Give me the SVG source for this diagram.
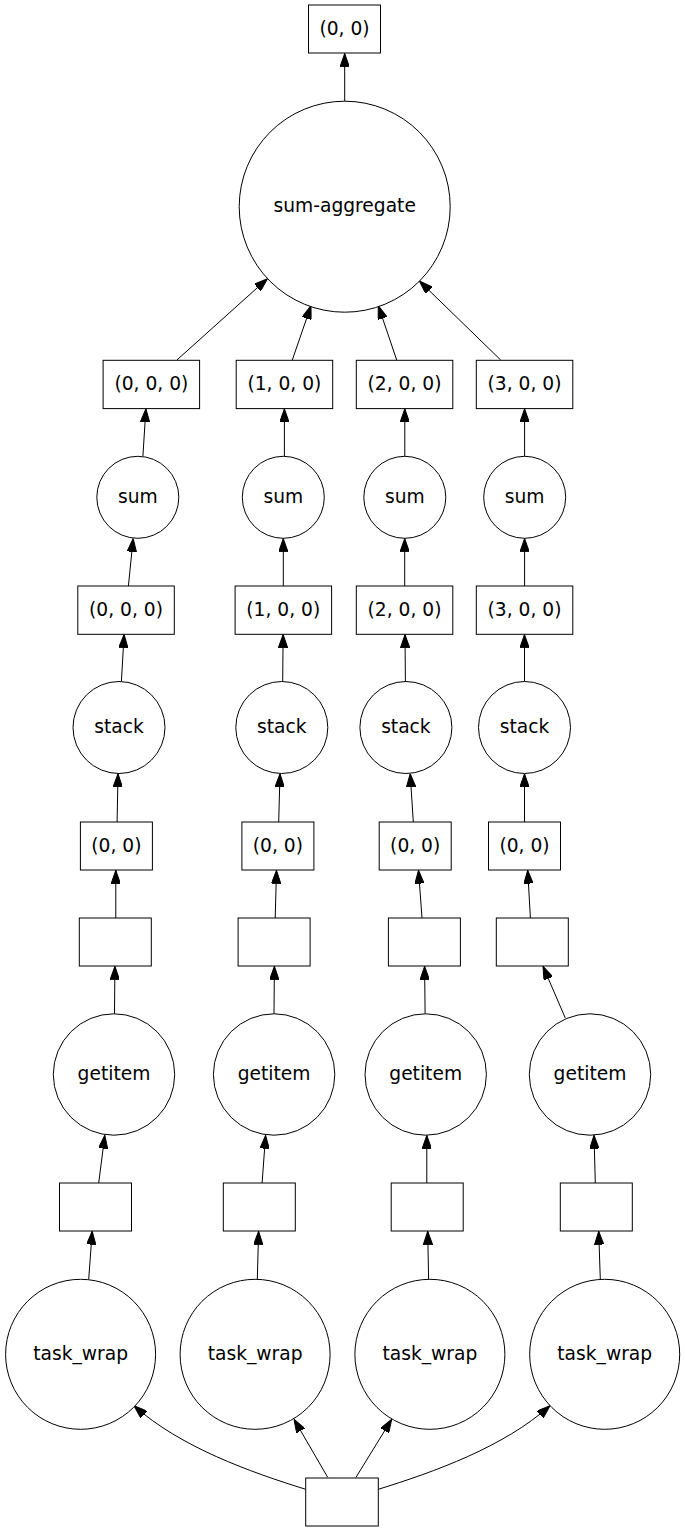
<svg xmlns="http://www.w3.org/2000/svg" width="685" height="1532" viewBox="0 0 685 1532">
<style>
.n rect, .n circle { fill: #ffffff; stroke: #000000; stroke-width: 1; }
.n text { font-family: "DejaVu Sans", "Liberation Sans", sans-serif; font-size: 18.67px; text-anchor: middle; fill: #000000; }
#edges path { fill: none; stroke: #000000; stroke-width: 1; marker-end: url(#arr); }
</style>
<defs>
<marker id="arr" viewBox="0 0 10 7" refX="10" refY="3.5" markerWidth="13.33" markerHeight="9.33" markerUnits="userSpaceOnUse" orient="auto">
<path d="M0,0 L10,3.5 L0,7 Z" fill="#000000" stroke="#000000" stroke-width="0.75"/>
</marker>
</defs>
<rect x="0" y="0" width="685" height="1532" fill="#ffffff"/>
<g id="edges">
<path d="M344.7,101.2 L344.7,53.5"/>
<path d="M176.9,360 L267.4,278.7"/>
<path d="M292.3,360 L311,305.7"/>
<path d="M396.7,360 L378.3,305.7"/>
<path d="M500.7,360 L419.4,281"/>
<path d="M142.9,456.3 L145.9,408.8"/>
<path d="M284.4,456.3 L284.4,408.8"/>
<path d="M404.8,456.3 L404.8,408.8"/>
<path d="M524.6,456.3 L524.6,408.8"/>
<path d="M128.4,586 L133.2,538.5"/>
<path d="M283.3,586 L283.3,538.5"/>
<path d="M404.7,586 L404.7,538.5"/>
<path d="M524.6,586 L524.6,538.5"/>
<path d="M121.4,681.5 L124.1,634.5"/>
<path d="M282.7,681.5 L283.1,634.5"/>
<path d="M405.4,681.5 L405,634.5"/>
<path d="M524.5,681.5 L524.5,634.5"/>
<path d="M117.1,822 L118,773.7"/>
<path d="M278.7,822 L280,773.7"/>
<path d="M413.3,822 L410.2,773.7"/>
<path d="M524.5,822 L524.5,773.7"/>
<path d="M115.8,918 L115.8,870.3"/>
<path d="M275.2,918 L276.5,870.3"/>
<path d="M422,918 L418.5,870.3"/>
<path d="M530.4,918 L527.7,870.3"/>
<path d="M114.5,1013.8 L114.9,966.3"/>
<path d="M274,1013.8 L274.4,966.3"/>
<path d="M425.1,1013.8 L424.6,966.3"/>
<path d="M565.3,1018 L543,966.3"/>
<path d="M98.7,1183 L104.8,1135.3"/>
<path d="M262.1,1183 L265.6,1135.3"/>
<path d="M426.8,1183 L426.8,1135.3"/>
<path d="M595.3,1183 L594,1135.3"/>
<path d="M88.7,1279.3 L92.2,1231.3"/>
<path d="M257.3,1279.3 L258.6,1231.3"/>
<path d="M428.6,1279.3 L427.7,1231.3"/>
<path d="M600.3,1279.3 L598.7,1231.3"/>
<path d="M305.7,1489.3 C250,1472 180,1447 134,1405.7"/>
<path d="M327.7,1477.3 L294,1419.3"/>
<path d="M356,1477.3 L391.7,1419.3"/>
<path d="M378.3,1489.3 C434,1472 504,1447 550,1405.7"/>
</g>
<g id="n_top" class="n"><rect x="308.5" y="5" width="72" height="48"/><text x="344.5" y="34.5">(0, 0)</text></g>
<g id="n_sumagg" class="n"><circle cx="344.7" cy="206.7" r="105.5"/><text x="344.7" y="212.2">sum-aggregate</text></g>
<g id="n_r1_0" class="n"><rect x="103.1" y="360.3" width="96.5" height="48.3"/><text x="151.4" y="390">(0, 0, 0)</text></g>
<g id="n_r1_1" class="n"><rect x="236.2" y="360.3" width="96.5" height="48.3"/><text x="284.4" y="390">(1, 0, 0)</text></g>
<g id="n_r1_2" class="n"><rect x="356.3" y="360.3" width="96.5" height="48.3"/><text x="404.5" y="390">(2, 0, 0)</text></g>
<g id="n_r1_3" class="n"><rect x="476.3" y="360.3" width="96.5" height="48.3"/><text x="524.5" y="390">(3, 0, 0)</text></g>
<g id="n_sum_0" class="n"><circle cx="137.8" cy="497.3" r="41"/><text x="137.8" y="502.8">sum</text></g>
<g id="n_sum_1" class="n"><circle cx="283.3" cy="497.3" r="41"/><text x="283.3" y="502.8">sum</text></g>
<g id="n_sum_2" class="n"><circle cx="404.8" cy="497.3" r="41"/><text x="404.8" y="502.8">sum</text></g>
<g id="n_sum_3" class="n"><circle cx="524.7" cy="497.3" r="41"/><text x="524.7" y="502.8">sum</text></g>
<g id="n_r2_0" class="n"><rect x="77.8" y="586" width="96.5" height="48.3"/><text x="126" y="615.7">(0, 0, 0)</text></g>
<g id="n_r2_1" class="n"><rect x="235.1" y="586" width="96.5" height="48.3"/><text x="283.3" y="615.7">(1, 0, 0)</text></g>
<g id="n_r2_2" class="n"><rect x="356.3" y="586" width="96.5" height="48.3"/><text x="404.5" y="615.7">(2, 0, 0)</text></g>
<g id="n_r2_3" class="n"><rect x="476.3" y="586" width="96.5" height="48.3"/><text x="524.5" y="615.7">(3, 0, 0)</text></g>
<g id="n_stack_0" class="n"><circle cx="119" cy="727.5" r="46"/><text x="119" y="733">stack</text></g>
<g id="n_stack_1" class="n"><circle cx="281.8" cy="727.5" r="46"/><text x="281.8" y="733">stack</text></g>
<g id="n_stack_2" class="n"><circle cx="405.9" cy="727.5" r="46"/><text x="405.9" y="733">stack</text></g>
<g id="n_stack_3" class="n"><circle cx="524.5" cy="727.5" r="46"/><text x="524.5" y="733">stack</text></g>
<g id="n_k_0" class="n"><rect x="80.4" y="822" width="72" height="48"/><text x="116.4" y="851.5">(0, 0)</text></g>
<g id="n_k_1" class="n"><rect x="241.9" y="822" width="72" height="48"/><text x="277.9" y="851.5">(0, 0)</text></g>
<g id="n_k_2" class="n"><rect x="379.2" y="822" width="72" height="48"/><text x="415.2" y="851.5">(0, 0)</text></g>
<g id="n_k_3" class="n"><rect x="488.5" y="822" width="72" height="48"/><text x="524.5" y="851.5">(0, 0)</text></g>
<g id="n_e3_0" class="n"><rect x="79.3" y="918" width="72" height="48"/></g>
<g id="n_e3_1" class="n"><rect x="238.1" y="918" width="72" height="48"/></g>
<g id="n_e3_2" class="n"><rect x="388.4" y="918" width="72" height="48"/></g>
<g id="n_e3_3" class="n"><rect x="496.3" y="918" width="72" height="48"/></g>
<g id="n_get_0" class="n"><circle cx="114" cy="1074.5" r="60.7"/><text x="114" y="1080">getitem</text></g>
<g id="n_get_1" class="n"><circle cx="274.1" cy="1074.5" r="60.7"/><text x="274.1" y="1080">getitem</text></g>
<g id="n_get_2" class="n"><circle cx="425.7" cy="1074.5" r="60.7"/><text x="425.7" y="1080">getitem</text></g>
<g id="n_get_3" class="n"><circle cx="590" cy="1074.5" r="60.7"/><text x="590" y="1080">getitem</text></g>
<g id="n_e4_0" class="n"><rect x="59.5" y="1183" width="72" height="48"/></g>
<g id="n_e4_1" class="n"><rect x="223.3" y="1183" width="72" height="48"/></g>
<g id="n_e4_2" class="n"><rect x="391.2" y="1183" width="72" height="48"/></g>
<g id="n_e4_3" class="n"><rect x="560.3" y="1183" width="72" height="48"/></g>
<g id="n_tw_0" class="n"><circle cx="80.6" cy="1354.3" r="75"/><text x="80.6" y="1359.8">task_wrap</text></g>
<g id="n_tw_1" class="n"><circle cx="255.1" cy="1354.3" r="75"/><text x="255.1" y="1359.8">task_wrap</text></g>
<g id="n_tw_2" class="n"><circle cx="429.9" cy="1354.3" r="75"/><text x="429.9" y="1359.8">task_wrap</text></g>
<g id="n_tw_3" class="n"><circle cx="604.7" cy="1354.3" r="75"/><text x="604.7" y="1359.8">task_wrap</text></g>
<g id="n_bottom" class="n"><rect x="305.7" y="1478" width="72.6" height="48"/></g>
</svg>
